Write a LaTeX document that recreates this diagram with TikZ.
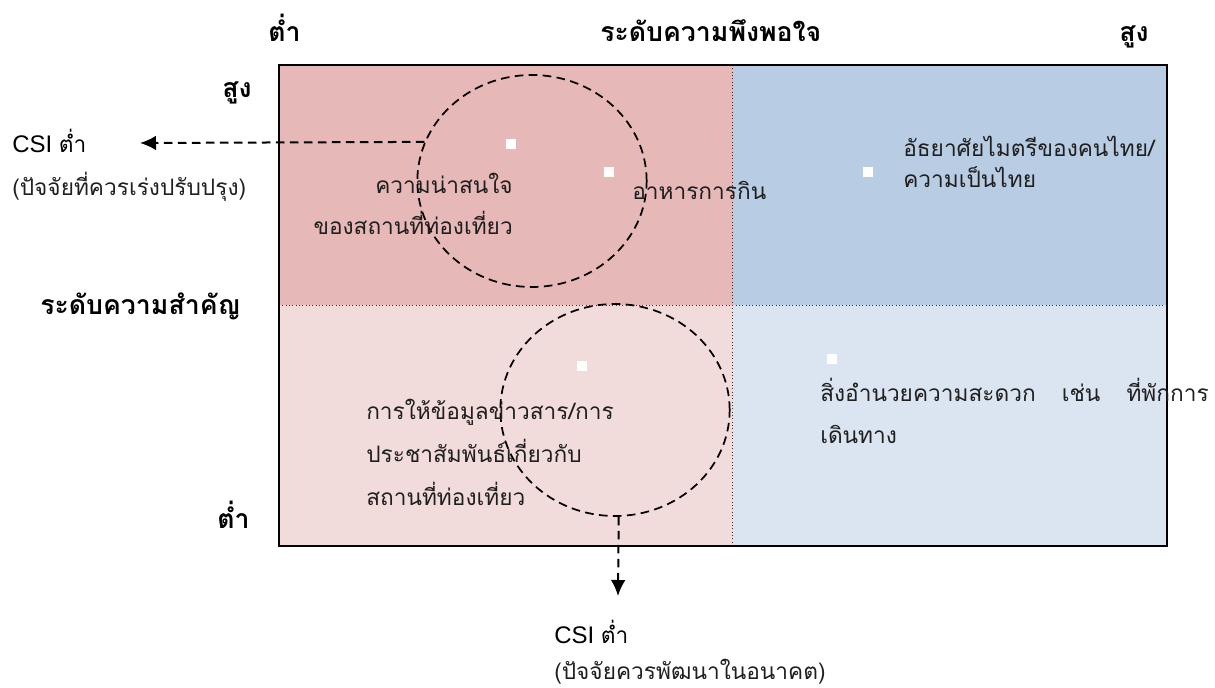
\documentclass[tikz,border=0pt]{standalone}
\usepackage{fontspec}
\setmainfont{Liberation Sans}
\newfontfamily\thai[Script=Thai]{Loma}
\usetikzlibrary{shapes.geometric,arrows.meta,calc}
\definecolor{qtl}{HTML}{E6B8B7}
\definecolor{qtr}{HTML}{B8CCE4}
\definecolor{qbl}{HTML}{F2DCDB}
\definecolor{qbr}{HTML}{DBE5F1}
\tikzset{
  txt/.style={font=\thai\fontsize{17pt}{31pt}\selectfont, inner sep=0pt, text=black!88},
  hdr/.style={font=\thai\bfseries\fontsize{20pt}{24pt}\selectfont, inner sep=0pt},
  csi/.style={font=\fontsize{18pt}{20pt}\selectfont, inner sep=0pt},
  dot/.style={fill=white, draw=none, minimum size=7.5pt, inner sep=0pt},
  ring/.style={ellipse, draw, dash pattern=on 6.5pt off 4pt, line width=1.3pt, minimum width=172pt, minimum height=159pt, inner sep=0pt},
  divider/.style={dotted, line width=0.5pt, black!80},
  arr/.style={dash pattern=on 6.5pt off 4pt, line width=1.5pt, -{Latex[length=12pt,width=11pt]}}
}
\begin{document}
\begin{tikzpicture}[x=0.75pt,y=-0.75pt]
\useasboundingbox (0,0) rectangle (1215,688);
% quadrants
\fill[qtl] (279,65) rectangle (732.5,305);
\fill[qtr] (732.5,65) rectangle (1167,305);
\fill[qbl] (279,305) rectangle (732.5,546);
\fill[qbr] (732.5,305) rectangle (1167,546);
\draw[divider] (279,305) -- (1167,305);
\draw[divider] (732.5,65) -- (732.5,546);
\draw[line width=1.5pt] (279,65) rectangle (1167,546);
% rings
\node[ring] (c1) at (532,181) {};
\node[ring] (c2) at (615,410) {};
% dots
\node[dot] (d1) at (511,144) {};
\node[dot] (d2) at (609,172) {};
\node[dot] (d3) at (868,172) {};
\node[dot] (d4) at (582,366) {};
\node[dot] (d5) at (832,359) {};
% quadrant texts (base = baseline of last line)
\node[txt, anchor=base east, align=right] (t1) at (513,235) {ความน่าสนใจ\\ของสถานที่ท่องเที่ยว};
\node[txt, anchor=base west] (t2) at (632,200) {อาหารการกิน};
\node[txt, anchor=base west, align=left, font=\thai\fontsize{17pt}{23.5pt}\selectfont] (t3) at (903,188) {อัธยาศัยไมตรีของคนไทย/\\ความเป็นไทย};
\node[txt, anchor=base west, align=left] (t4) at (820,443) {สิ่งอำนวยความสะดวก\hspace{1.15em}เช่น\hspace{1.15em}ที่พักการ\\เดินทาง};
\node[txt, anchor=base west, align=left, font=\thai\fontsize{17pt}{32pt}\selectfont] (t5) at (366,505) {การให้ข้อมูลข่าวสาร/การ\\ประชาสัมพันธ์เกี่ยวกับ\\สถานที่ท่องเที่ยว};
% axis labels
\node[hdr, anchor=base west] (xlo) at (268,42) {ต่ำ};
\node[hdr, anchor=base west] (xt) at (600,42) {ระดับความพึงพอใจ};
\node[hdr, anchor=base east] (xhi) at (1149,42) {สูง};
\node[hdr, anchor=base east] (yhi) at (252,98) {สูง};
\node[hdr, anchor=base west] (yt) at (40,315) {ระดับความสำคัญ};
\node[hdr, anchor=base east] (ylo) at (250,528) {ต่ำ};
% CSI labels
\node[csi, anchor=base west] (l1) at (12,153) {CSI {\thai\fontsize{17pt}{20pt}\selectfont ต่ำ}};
\node[txt, anchor=base west] (l2) at (12,196) {(ปัจจัยที่ควรเร่งปรับปรุง)};
\coordinate (a1) at (140,143);
\draw[arr] (c1.160) -- (a1);
\node[csi, anchor=base west] (b1) at (554,643) {CSI {\thai\fontsize{17pt}{20pt}\selectfont ต่ำ}};
\node[txt, anchor=base west] (b2) at (554,679) {(ปัจจัยควรพัฒนาในอนาคต)};
\coordinate (a2) at (618,596);
\draw[arr] (c2.-88) -- (a2);
\end{tikzpicture}
\end{document}
